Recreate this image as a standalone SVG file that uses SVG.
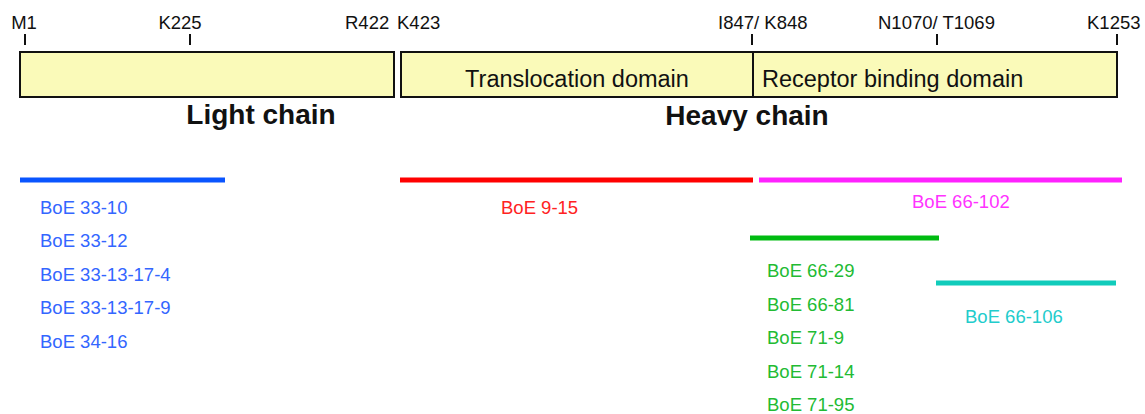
<svg xmlns="http://www.w3.org/2000/svg" width="1145" height="414" viewBox="0 0 1145 414">
<style>
text{font-family:"Liberation Sans",Arial,sans-serif}
.pos{font-size:18.5px;fill:#111}
.tick{stroke:#111;stroke-width:2}
.box{fill:#fafab9;stroke:#111;stroke-width:2}
.dom{font-size:23.5px;fill:#111}
.chain{font-size:28px;font-weight:bold;fill:#111}
.lbl{font-size:18.5px}
.bar{stroke-width:5;fill:none}
</style>
<rect width="1145" height="414" fill="#fff"/>
<g id="positions">
<text class="pos" x="24" y="29" text-anchor="middle">M1</text>
<text class="pos" x="180" y="29" text-anchor="middle">K225</text>
<text class="pos" x="345" y="29">R422</text>
<text class="pos" x="397" y="29">K423</text>
<text class="pos" x="718" y="29">I847/ K848</text>
<text class="pos" x="878" y="29">N1070/ T1069</text>
<text class="pos" x="1087" y="29">K1253</text>
<line class="tick" x1="25" y1="34" x2="25" y2="45"/>
<line class="tick" x1="190" y1="34" x2="190" y2="45"/>
<line class="tick" x1="752" y1="34" x2="752" y2="45"/>
<line class="tick" x1="937" y1="34" x2="937" y2="45"/>
<line class="tick" x1="1117" y1="34" x2="1117" y2="45"/>
</g>
<g id="light-chain">
<rect class="box" x="20" y="52" width="374" height="45"/>
<text class="chain" x="261" y="124" text-anchor="middle">Light chain</text>
</g>
<g id="translocation-domain">
<rect class="box" x="401" y="52" width="352" height="45"/>
<text class="dom" x="577" y="87" text-anchor="middle">Translocation domain</text>
</g>
<g id="receptor-binding-domain">
<rect class="box" x="753" y="52" width="364" height="45"/>
<text class="dom" x="762" y="87">Receptor binding domain</text>
</g>
<g id="heavy-chain">
<text class="chain" x="747" y="125" text-anchor="middle">Heavy chain</text>
</g>
<g id="connectors">
<line class="bar" x1="20" y1="180" x2="225" y2="180" stroke="#0a55ff"/>
<line class="bar" x1="400" y1="180" x2="753" y2="180" stroke="#ff0000"/>
<line class="bar" x1="759" y1="180" x2="1122" y2="180" stroke="#ff22ff"/>
<line class="bar" x1="750" y1="238" x2="939" y2="238" stroke="#00bb11"/>
<line class="bar" x1="936" y1="283" x2="1116" y2="283" stroke="#11ccbb"/>
</g>
<g id="blue-group" class="lbl" fill="#3366ff">
<text x="40" y="214">BoE 33-10</text>
<text x="40" y="247">BoE 33-12</text>
<text x="40" y="281">BoE 33-13-17-4</text>
<text x="40" y="314">BoE 33-13-17-9</text>
<text x="40" y="348">BoE 34-16</text>
</g>
<g id="red-group" class="lbl" fill="#ff2222">
<text x="501" y="214">BoE 9-15</text>
</g>
<g id="magenta-group" class="lbl" fill="#ff33ff">
<text x="912" y="208">BoE 66-102</text>
</g>
<g id="green-group" class="lbl" fill="#22bb33">
<text x="767" y="277">BoE 66-29</text>
<text x="767" y="311">BoE 66-81</text>
<text x="767" y="344">BoE 71-9</text>
<text x="767" y="378">BoE 71-14</text>
<text x="767" y="411">BoE 71-95</text>
</g>
<g id="cyan-group" class="lbl" fill="#22cccc">
<text x="965" y="323">BoE 66-106</text>
</g>
</svg>
